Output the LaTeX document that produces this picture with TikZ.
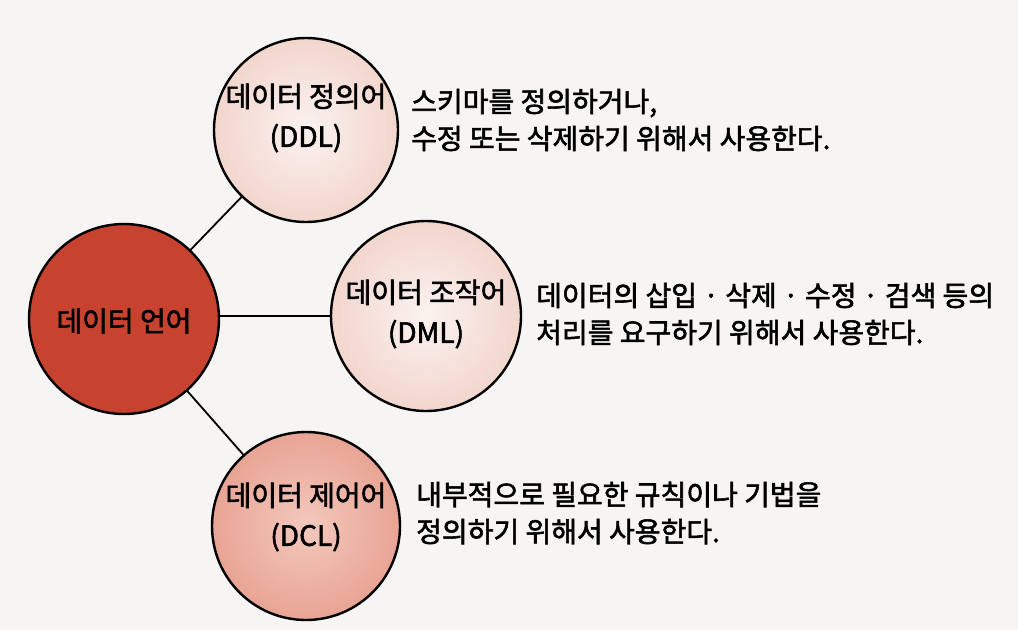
\documentclass[tikz,border=0pt]{standalone}
\usepackage{fontspec}
\setmainfont{Noto Sans CJK KR}[FakeBold=2]
\definecolor{paper}{HTML}{F6F5F3}
\definecolor{langred}{HTML}{C8432F}
\definecolor{palein}{HTML}{FBF2EF}
\definecolor{paleout}{HTML}{F2D6CE}
\definecolor{pinkin}{HTML}{F3C9BD}
\definecolor{pinkout}{HTML}{E8A494}
\tikzset{
  bubble/.style={circle, draw=black, line width=2.4pt, inner sep=0pt, outer sep=0pt},
  link/.style={draw=black, line width=1.8pt},
  lbl/.style={align=center, font=\fontsize{28}{40}\selectfont, inner sep=0pt},
  desc/.style={align=left, anchor=west, font=\fontsize{28}{37}\selectfont, inner sep=0pt},
}
\begin{document}
\begin{tikzpicture}[x=1pt,y=-1pt]
\fill[paper] (0,0) rectangle (1018,630);
\useasboundingbox (0,0) rectangle (1018,630);
% circles
\node[bubble, minimum size=190pt, fill=langred] (lang) at (124,319) {};
\node[bubble, minimum size=184pt, inner color=palein, outer color=paleout] (ddl) at (306,130) {};
\node[bubble, minimum size=190pt, inner color=palein, outer color=paleout] (dml) at (426,316) {};
\node[bubble, minimum size=188pt, inner color=pinkin, outer color=pinkout] (dcl) at (306,526) {};
% connectors
\draw[link] (lang) -- (ddl);
\draw[link] (lang.east |- dml.west) -- (dml.west);
\draw[link] (lang) -- (dcl);
% labels in circles
\node[lbl] (langtxt) at (124,321) {데이터 언어};
\node[lbl] (ddltxt) at (306,118) {데이터 정의어\\(DDL)};
\node[lbl] (dmltxt) at (426,314) {데이터 조작어\\(DML)};
\node[lbl] (dcltxt) at (306,517) {데이터 제어어\\(DCL)};
% descriptions
\node[desc] (ddldesc) at (411,120) {스키마를 정의하거나,\\수정 또는 삭제하기 위해서 사용한다.};
\node[desc] (dmldesc) at (536,314) {데이터의 삽입 · 삭제 · 수정 · 검색 등의\\처리를 요구하기 위해서 사용한다.};
\node[desc] (dcldesc) at (416,513) {내부적으로 필요한 규칙이나 기법을\\정의하기 위해서 사용한다.};
\end{tikzpicture}
\end{document}
